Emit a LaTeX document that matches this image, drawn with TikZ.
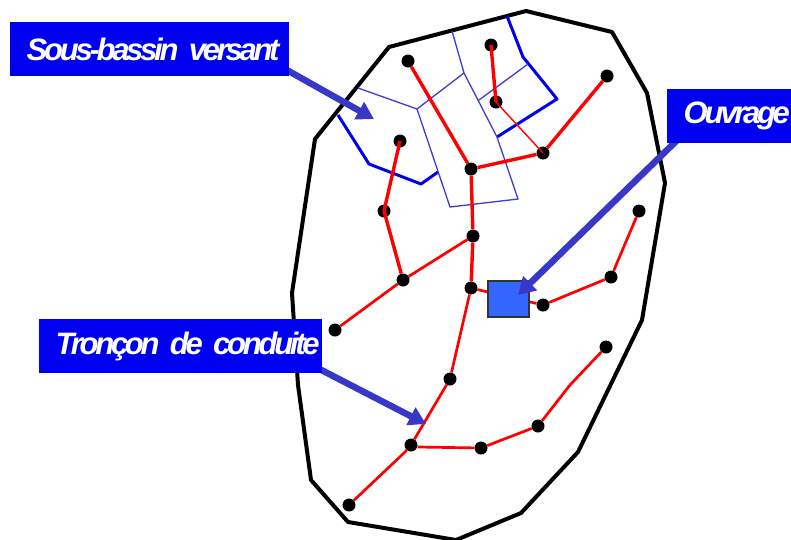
\documentclass[tikz,border=0pt]{standalone}
\usepackage{fontspec}
\usepackage{xcolor}
\usetikzlibrary{arrows.meta}
\newfontfamily\calloutfont[LetterSpace=-10.5,WordSpace=0.6]{Liberation Sans}
\definecolor{hydroBasin}{HTML}{0000F0}
\definecolor{hydroThin}{HTML}{3C3CD2}
\definecolor{hydroPipe}{HTML}{FF0000}
\definecolor{hydroBox}{HTML}{3366FF}
\definecolor{hydroArrow}{HTML}{3838C8}
\pgfdeclarelayer{front}
\pgfsetlayers{main,front}
\tikzset{
  manhole/.style={circle, fill=black, inner sep=0pt, minimum size=13pt},
  pipe/.style={hydroPipe, line width=3.4pt},
  pipethin/.style={hydroPipe, line width=2.7pt},
  basin/.style={hydroBasin, line width=3pt, line join=round},
  basinthin/.style={hydroThin, line width=1.3pt, line join=round},
  pointer/.style={hydroArrow, line width=6.5pt, -{Triangle[length=17pt, width=19pt]}},
  callout/.style={fill=hydroBasin, text=white, anchor=north west, minimum height=54pt,
    inner ysep=0pt, inner xsep=16.5pt, align=left, font=\calloutfont\bfseries\itshape\fontsize{31}{31}\selectfont},
}

\begin{document}
\begin{tikzpicture}[x=1pt, y=-1pt]
  \useasboundingbox (0,0) rectangle (791,539);
  \clip (0,0) rectangle (791,539);
  \draw[black, line width=4pt, line join=round] (389,47) -- (526,11) -- (612,32) -- (647,93) -- (665,183)
    -- (642,320) -- (578,452) -- (521,513) -- (456,540) -- (348,522) -- (311,480) -- (298,385) -- (292,293)
    -- (315,139) -- cycle;
  \draw[basin] (507,16) -- (523,57) -- (557,99) -- (497,137);
  \draw[basin] (338,115) -- (369,164) -- (421,184) -- (438,172);
  \draw[basinthin] (452,31) -- (464,73) -- (497,137) -- (518,199) -- (450,207) -- (417,109) -- (358,88);
  \draw[basinthin] (417,109) -- (464,73);
  \draw[basinthin] (479,100) -- (528,64);
  \node[manhole] (n1) at (408,61) {};
  \node[manhole] (n2) at (491,45) {};
  \node[manhole] (n3) at (496,102) {};
  \node[manhole] (n4) at (607,76) {};
  \node[manhole] (n5) at (543,153) {};
  \node[manhole] (n6) at (471,169) {};
  \node[manhole] (n7) at (400,141) {};
  \node[manhole] (n8) at (384,211) {};
  \node[manhole] (n9) at (473,236) {};
  \node[manhole] (n10) at (403,280) {};
  \node[manhole] (n11) at (335,330) {};
  \node[manhole] (n12) at (471,288) {};
  \node[manhole] (n13) at (543,305) {};
  \node[manhole] (n14) at (611,277) {};
  \node[manhole] (n15) at (639,211) {};
  \node[manhole] (n16) at (450,379) {};
  \node[manhole] (n17) at (411,445) {};
  \node[manhole] (n18) at (481,448) {};
  \node[manhole] (n19) at (538,426) {};
  \node[manhole] (n20) at (606,347) {};
  \node[manhole] (n21) at (349,505) {};
  \coordinate (b1) at (405,452);
  \coordinate (b2) at (570,385);
  \draw[pipe] (n1) -- (n6);
  \draw[pipe] (n2.center) -- (n3.center);
  \draw[hydroPipe, line width=1.4pt] (n3.center) -- (n5.center);
  \draw[pipe] (n4) -- (n5);
  \draw[pipe] (n5) -- (n6);
  \draw[pipe] (n6) -- (n9);
  \draw[pipe] (n7.center) -- (n8.center);
  \draw[pipe] (n8.center) -- (n10);
  \draw[pipethin] (n9) -- (n10);
  \draw[pipethin] (n10) -- (n11);
  \draw[pipe] (n9) -- (n12);
  \draw[pipethin] (n12) -- (n16);
  \draw[pipethin] (n16) -- (n17);
  \draw[pipethin] (n17) -- (b1) -- (n21);
  \draw[pipethin] (n17.east) ++(0,2) -- (n18);
  \draw[pipethin] (n18) -- (n19);
  \draw[pipethin] (n19) -- (b2) -- (n20);
  \draw[pipethin] (n13) -- (n14);
  \draw[pipethin] (n14) -- (n15);
  \draw[pipethin] (n12) -- (n13);
  \node[draw=black!80, line width=1.2pt, fill=hydroBox, inner sep=0pt, minimum width=41pt, minimum height=36pt] (ouvrage) at (508.5,299) {};
  \coordinate (tipA) at (374,119);
  \coordinate (tipB) at (518,295);
  \coordinate (tipC) at (426,424);
  \begin{pgfonlayer}{front}
    \node[callout, text width=246pt] (sbv) at (10,22) {\mbox{Sous-bassin versant}};
    \node[callout, text width=91pt] (ouv) at (667,89) {\mbox{Ouvrage}};
    \node[callout, text width=250pt] (tc) at (39,319) {\mbox{Tronçon de conduite}};
  \end{pgfonlayer}
  \draw[pointer] (sbv.south east) ++(-9,-10) -- (tipA);
  \draw[pointer] (ouv.south west) ++(12,-5) -- (tipB);
  \draw[pointer] (tc.south east) ++(-8,-7) -- (tipC);
\end{tikzpicture}
\end{document}
